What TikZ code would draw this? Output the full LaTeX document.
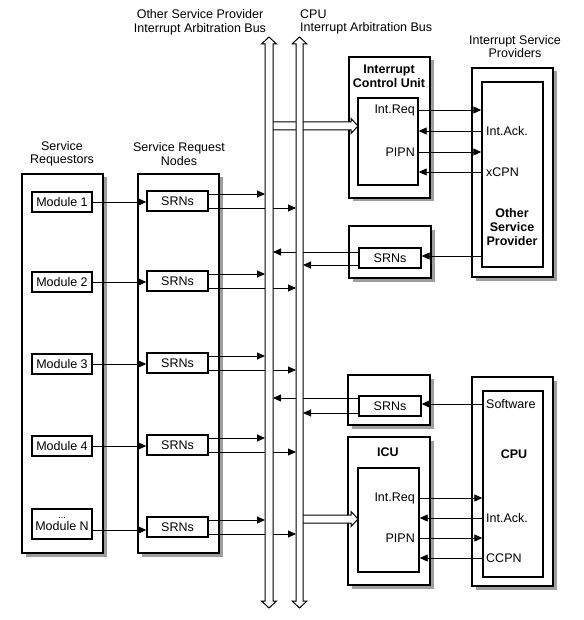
\documentclass[tikz,border=0pt]{standalone}
\usepackage{fontspec}
\setmainfont{Liberation Sans}
\usetikzlibrary{arrows.meta,shadows}
\begin{document}
\begin{tikzpicture}[x=1pt,y=-1pt,
  font=\fontsize{12.5}{13.5}\selectfont,
  boldtxt/.style={font=\fontsize{12.5}{14}\selectfont\bfseries},
  outer/.style={draw,line width=1.6pt,fill=white,inner sep=0pt,
    drop shadow={shadow xshift=3.5pt,shadow yshift=-3.5pt,fill=black!38,opacity=1}},
  inner/.style={draw,line width=1.4pt,fill=white,inner sep=0pt},
  arr/.style={line width=0.9pt,-{Triangle[length=8pt,width=7pt]}},
  bus/.style={draw,line width=1pt,fill=white},
  lbl/.style={align=center,inner sep=0pt},
  tl/.style={inner sep=1pt},
]
\useasboundingbox (0,0) rectangle (583,620);

% bus reference coordinates
\coordinate (b1L) at (265,0);
\coordinate (b1R) at (273,0);
\coordinate (b2L) at (296,0);
\coordinate (b2R) at (303,0);

% titles
\node[lbl] (tOSP) at (200,22.5) {Other Service Provider\\Interrupt Arbitration Bus};
\node[lbl,anchor=west,align=left] (tCPU) at (300,22) {CPU\\Interrupt Arbitration Bus};
\node[lbl] (tISP) at (515,46.5) {Interrupt Service\\Providers};
\node[lbl] (tSR) at (62,154) {Service\\Requestors};
\node[lbl] (tSRN) at (179,154) {Service Request\\Nodes};

% left columns
\node[outer,minimum width=81pt,minimum height=379pt] (SR) at (62.5,363.5) {};
\node[outer,minimum width=81pt,minimum height=379pt] (SRN) at (178.5,363.5) {};

\node[inner,minimum width=60pt,minimum height=20pt] (m1) at (62,202) {Module 1};
\node[inner,minimum width=60pt,minimum height=20pt] (m2) at (62,282) {Module 2};
\node[inner,minimum width=60pt,minimum height=20pt] (m3) at (62,364) {Module 3};
\node[inner,minimum width=60pt,minimum height=20pt] (m4) at (62,446) {Module 4};
\node[inner,minimum width=60pt,minimum height=30pt,align=center] (m5) at (62,524)
  {{\fontsize{9}{6}\selectfont ...}\\[-1pt]Module N};

\node[inner,minimum width=61pt,minimum height=20pt] (s1) at (177.5,201) {SRNs};
\node[inner,minimum width=61pt,minimum height=20pt] (s2) at (177.5,281) {SRNs};
\node[inner,minimum width=61pt,minimum height=20pt] (s3) at (177.5,363) {SRNs};
\node[inner,minimum width=61pt,minimum height=20pt] (s4) at (177.5,445) {SRNs};
\node[inner,minimum width=61pt,minimum height=20pt] (s5) at (177.5,527) {SRNs};

% right side: interrupt control unit
\node[outer,minimum width=81pt,minimum height=141pt] (icu1) at (389.5,127.5) {};
\node[lbl,boldtxt] (ticu1) at (389,76.5) {Interrupt\\Control Unit};
\node[inner,minimum width=60pt,minimum height=87pt] (icu1in) at (388,141.5) {};

% other service provider
\node[outer,minimum width=81pt,minimum height=209pt] (osp) at (512.5,172.5) {};
\node[inner,minimum width=61pt,minimum height=185pt] (ospin) at (512.5,174.5) {};
\node[lbl,boldtxt] (tosp) at (512,227) {Other\\Service\\Provider};

% SRN of other service provider
\node[outer,minimum width=82pt,minimum height=52pt] (srnO) at (390,252) {};
\node[inner,minimum width=62pt,minimum height=20pt] (srnOin) at (390,258) {SRNs};

% SRN of CPU
\node[outer,minimum width=82pt,minimum height=50pt] (srnC) at (389,400) {};
\node[inner,minimum width=62pt,minimum height=20pt] (srnCin) at (390,406) {SRNs};

% ICU
\node[outer,minimum width=82pt,minimum height=148pt] (icu2) at (389,511) {};
\node[lbl,boldtxt] (ticu2) at (388,452) {ICU};
\node[inner,minimum width=61pt,minimum height=104pt] (icu2in) at (388.5,520) {};

% CPU
\node[outer,minimum width=81pt,minimum height=209pt] (cpu) at (512.5,481.5) {};
\node[inner,minimum width=60pt,minimum height=186pt] (cpuin) at (513,484) {};
\node[lbl,boldtxt] (tcpu) at (514,454) {CPU};

% signal labels
\node[tl,anchor=east] (ir1) at (416,110) {Int.Req};
\node[tl,anchor=east] (pp1) at (416,152) {PIPN};
\node[tl,anchor=west] (ia1) at (485,131) {Int.Ack.};
\node[tl,anchor=west] (xc1) at (485,172) {xCPN};

\node[tl,anchor=east] (ir2) at (416,498) {Int.Req};
\node[tl,anchor=east] (pp2) at (416,538) {PIPN};
\node[tl,anchor=west] (ia2) at (485,518) {Int.Ack.};
\node[tl,anchor=west] (cc2) at (485,558) {CCPN};
\node[tl,anchor=west] (sw) at (485,404) {Software};

% module -> SRN
\foreach \i in {1,2,3,4}{
  \draw[arr] (m\i.east) -- (m\i.east -| s\i.west);
}
\draw[arr] ([yshift=-6pt]m5.east) -- ([yshift=-6pt]m5.east -| s5.west);

% SRN -> buses
\foreach \i in {1,...,5}{
  \draw[arr] ([yshift=7pt]s\i.east) -- ([yshift=7pt]s\i.east -| b1L);
  \draw[arr] ([yshift=-7pt]s\i.east) -- ([yshift=-7pt]s\i.east -| b2L);
}

% ICU1 <-> OSP
\draw[arr] (ir1.east -| icu1in.east) -- (ir1.east -| ospin.west);
\draw[arr] (pp1.east -| icu1in.east) -- (pp1.east -| ospin.west);
\draw[arr] (ia1.west -| ospin.west) -- (ia1.west -| icu1in.east);
\draw[arr] (xc1.west -| ospin.west) -- (xc1.west -| icu1in.east);

% OSP -> SRN -> buses
\draw[arr] ([yshift=2pt]srnOin.east -| ospin.west) -- ([yshift=2pt]srnOin.east);
\draw[arr] ([yshift=6pt]srnOin.west) -- ([yshift=6pt]srnOin.west -| b1R);
\draw[arr] ([yshift=-7pt]srnOin.west) -- ([yshift=-7pt]srnOin.west -| b2R);

% CPU software -> SRN -> buses
\draw[arr] (sw.west -| cpuin.west) -- (sw.west -| srnCin.east);
\draw[arr] ([yshift=8pt]srnCin.west) -- ([yshift=8pt]srnCin.west -| b1R);
\draw[arr] ([yshift=-7pt]srnCin.west) -- ([yshift=-7pt]srnCin.west -| b2R);

% ICU2 <-> CPU
\draw[arr] (ir2.east -| icu2in.east) -- (ir2.east -| cpuin.west);
\draw[arr] (pp2.east -| icu2in.east) -- (pp2.east -| cpuin.west);
\draw[arr] (ia2.west -| cpuin.west) -- (ia2.west -| icu2in.east);
\draw[arr] (cc2.west -| cpuin.west) -- (cc2.west -| icu2in.east);

% wide hollow arrows from the buses to the ICUs
\draw[bus] (269,122) -- (351,122) -- (351,118.5) -- (358,126) -- (351,133.5) -- (351,130) -- (269,130) -- cycle;
\draw[bus] (299.5,515) -- (351,515) -- (351,511.5) -- (358,519) -- (351,526.5) -- (351,523) -- (299.5,523) -- cycle;

% buses
\draw[bus] (269,37) -- (261.5,44) -- (265,44) -- (265,601) -- (261.5,601) -- (269,608)
  -- (276.5,601) -- (273,601) -- (273,44) -- (276.5,44) -- cycle;
\draw[bus] (299.5,37) -- (292,44) -- (296,44) -- (296,601) -- (292,601) -- (299.5,608)
  -- (307,601) -- (303,601) -- (303,44) -- (307,44) -- cycle;
\end{tikzpicture}
\end{document}
